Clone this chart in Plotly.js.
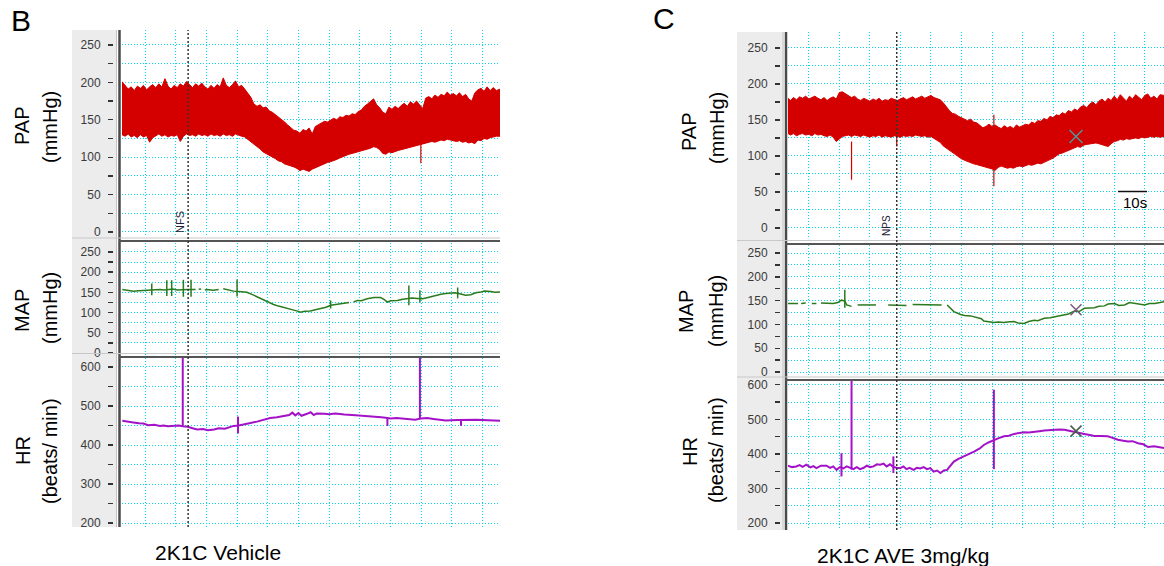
<!DOCTYPE html>
<html>
<head>
<meta charset="utf-8">
<script src="https://cdn.plot.ly/plotly-3.0.1.min.js"></script>
<style>html,body{margin:0;padding:0;background:#fff}#chart{width:1164px;height:566px}</style>
</head>
<body>
<div id="chart"></div>
<script>
// ---------------- DATA ----------------
// Panel B : 2K1C Vehicle  (time in seconds)
const bT = [2.5,3.5,4.5,5.5,6.5,7.5,8.5,9.5,10.5,11.5,12.5,13.5,14.5,15.5,16.5,17.5,18.5,19.5,20.5,21.5,22.5,23.5,24.5,25.5,26.5,27.5,28.5,29.5,30.5,31.5,32.5,33.5,34.5,35.5,36.5,37.5,38.5,39.5,40.5,41.5,42.5,43.5,44.5,45.5,46.5,47.5,48.5,49.5,50.5,51.5,52.5,53.5,54.5,55.5,56.5,57.5,58.5,59.5,60.5,61.5,62.5,63.5,64.5,65.5,66.5,67.5,68.5,69.5,70.5,71.5,72.5,73.5,74.5,75.5,76.5,77.5,78.5,79.5,80.5,81.5,82.5,83.5,84.5,85.5,86.5,87.5,88.5,89.5,90.5,91.5,92.5,93.5,94.5,95.5,96.5,97.5,98.5,99.5,100.5,101.5,102.5,103.5,104.5,105.5,106.5,107.5,108.5,109.5,110.5,111.5,112.5,113.5,114.5,115.5,116.5,117.5,118.5,119.5,120.5,121.5,122.5,123.5,124.5,125.7];
const bPapHi = [201,196,191,194,189,195,192,196,190,194,197,
  193,198,194,205,195,191,196,193,198,195,
  201,197,193,198,195,199,194,191,196,192,
  197,194,206,196,193,197,202,194,196,191,
  186,180,171,168,170,166,167,162,160,157,
  153,150,147,143,140,136,135,132,137,135,
  139,131,141,143,145,148,147,150,152,150,
  154,153,156,155,158,157,161,163,168,171,
  174,178,170,166,160,158,167,164,168,165,
  169,172,168,174,171,175,170,165,179,181,
  178,183,180,184,182,187,183,185,182,186,
  181,184,178,175,186,190,192,188,194,189,
  193,189,191];
const bPapLo = [130,128,131,127,129,126,130,127,129,120,126,
  129,131,128,130,127,129,128,130,121,128,
  131,129,130,128,131,129,130,128,131,129,
  130,128,131,129,130,128,131,129,128,127,
  124,120,118,114,111,107,105,103,100,98,
  95,94,91,90,88,87,85,82,84,83,
  81,84,86,88,89,91,93,94,95,97,
  99,101,102,104,105,106,107,108,109,110,
  112,114,113,110,105,104,107,106,108,109,
  110,111,112,113,115,116,117,118,119,120,
  121,120,122,123,122,124,123,122,121,122,
  120,121,119,120,118,123,122,125,124,126,
  127,128,128];
const bPapSpikeT = [99.9];
const bPapSpikeLo = [92];
const bPapSpikeHi = [119];

const bMapT = [2.6,4,6.2,8,9.5,11,12.2,14.9,16.5,17.5,19,20.5,22,23.9,25.5,26.5,27,27.5,28.3,29,29.5,30,32.3,34,35,35.5,37,38.9,40.5,42.5,43.2,45.4,47,48.7,50.8,51.9,53.5,55.2,57,58.5,60,60.7,62,63.9,65.5,67.2,69,70.5,72.6,74,75.9,76.5,77.2,78,79.2,80.5,82.4,84.6,86.8,88,89,90.1,92.2,94,95.5,97,98.8,100.5,102.6,104,105.3,106.4,108,109.7,111,112.9,114.5,116.2,117.8,119.5,120.6,122.7,124,125.7];
const bMapV = [157,155,153,154,155,156,155,157,156,157,158,156,157,157,157,157,null,158,158,null,156,157,155,157,null,159,156,153,152,151,150,143,137,130,124,120,116,112,109,106,103,101,103,104,107,110,113,118,120,121,124,125,null,126,130,129,134,137,137,132,126,129,130,133,134,136,135,134,138,141,144,145,147,149,149,146,143,144,149,151,153,152,150,151];
const bMapSpikeT = [12.2,17.1,18.7,22.5,25,40,70.5,96,99.6,111.9];
const bMapSpikeLo = [143,141,141,139,139,140,110,118,125,135];
const bMapSpikeHi = [172,180,180,181,181,182,130,167,155,162];

const bHrT = [2.6,4,6.2,8,9.5,11,13,14.9,16,17.5,19.3,21,22.3,23.9,25.5,27,28.9,30.5,32.5,34,36,37.5,38.9,40.5,42.5,44,46.5,48,50.8,53,55,57,58,59,60,61,62.8,64,65,66,68.4,70,72,73.7,75,78.6,81,84,87,88.4,90,92,95.5,98,99.9,102,104,106.4,108,111.9,114,116.2,118,120,122.7,125.7];
const bHrV = [462,461,458,456,455,451,452,449,450,448,449,450,448,447,443,440,441,438,440,443,442,446,449,450,454,456,460,463,469,471,474,477,483,476,482,475,480,484,477,481,480,479,481,479,478,476,475,473,471,470,468,469,466,465,468,469,467,464,463,464,465,466,465,464,463,462];
const bHrSpikeT = [22.3,99.6,40.3,89,113];
const bHrSpikeLo = [448,468,430,449,449];
const bHrSpikeHi = [640,640,473,470,464];
const bMarker = 24.05; // NFS

// Panel C : 2K1C AVE 3mg/kg
const cT = [3.2,4,5,6,7,8,9,10,11,12,13,14,15,16,17,18,19,20,21,22,23,24,25,26,27,28,29,30,31,32,33,34,35,36,37,38,39,40,41,42,43,44,45,46,47,48,49,50,51,52,53,54,55,56,57,58,59,60,61,62,63,64,65,66,67,68,69,70,71,72,73,74,75,76,77,78,79,80,81,82,83,84,85,86,87,88,89,90,91,92,93,94,95,96,97,98,99,100,101,102,103,104,105,106,107,108,109,110,111,112,113,114,115,116,117,118,119,120,121,122,123,124,125,126.3];
const cPapHi = [180,
  177,181,178,182,180,183,179,181,183,180,
  178,181,177,180,182,179,188,189,186,184,
  181,183,179,177,180,178,176,179,177,180,
  176,178,177,180,178,177,179,181,178,180,
  182,179,181,183,180,182,184,181,180,178,
  174,168,163,159,158,155,153,152,149,151,
  147,146,143,139,141,144,141,143,140,138,
  142,139,141,138,143,140,142,144,143,147,
  145,149,148,152,150,155,153,157,156,160,
  158,163,161,165,163,168,170,167,172,175,
  171,176,179,175,180,177,183,178,185,181,
  176,183,179,185,182,178,184,186,180,183,
  179,185,184];
const cPapLo = [131,
  129,131,128,130,131,129,130,128,131,129,
  130,128,127,129,126,120,124,127,128,129,
  127,129,128,127,129,128,126,128,127,129,
  126,128,127,126,128,127,126,128,127,128,
  127,129,128,127,128,126,127,124,122,119,
  114,111,107,104,101,99,96,94,92,90,
  89,88,87,86,85,84,82,80,84,86,
  85,83,84,83,85,86,85,87,88,87,
  89,90,89,91,93,94,97,100,103,104,
  106,107,109,111,113,112,115,116,117,118,
  118,117,116,114,113,117,120,121,123,122,
  124,123,124,125,124,126,125,126,127,126,
  127,126,127];
const cPapSpikeT = [24.0,70.6,38.8];
const cPapSpikeLo = [67,58,113];
const cPapSpikeHi = [120,157,126];

const cMapT = [3.2,5,6.5,7,7.5,9,10,11,12.5,13,14,16,18,19.5,20.7,21.8,22.4,23.5,24,25,26,28,30,32,33.5,36,38,40,41,42,43,44,46,48,50,52,53.5,54.5,55.3,56.5,57.5,59.7,61,63,65.2,66.5,67.3,68.5,70.6,72,73.9,75,77.2,78.5,80.5,82,83.8,85,87.1,89,90.4,92,93.7,95,97,98.5,100.2,102,103.5,105,106.8,108,110.1,111.5,113.4,115,116.7,118,120,121.5,123.3,125,126.3];
const cMapV = [144,144,144,null,144,145,null,144,144,null,145,144,144,146,151,149,141,139,138,null,141,141,141,141,null,141,141,141,140,140,null,142,142,141,142,142,141,null,141,133,127,121,119,118,114,112,107,106,104,105,104,105,106,103,102,106,109,108,113,114,116,118,121,122,128,127,134,135,135,138,139,143,144,140,141,146,144,142,141,144,144,146,148];
const cMapSpikeT = [21.8];
const cMapSpikeLo = [135];
const cMapSpikeHi = [173];

const cHrT = [3.2,4.5,5.9,7,8,9.2,10.5,11.5,12.5,14,15.8,17,18,19.1,20.2,21.3,22.4,23.5,24.6,25.7,26.8,28,29,30.1,31.2,32.3,33.4,34.5,35.5,36.6,37.7,38.8,39.9,41,42,43,44.3,45.4,46.5,47.6,48.7,49.8,50.9,52,53.1,54.2,55.3,56,57.5,59,60.8,62.5,64.1,66,67.3,69,70.6,72,73.9,75.5,77.2,79,80.5,82,83.8,85.5,87.1,88.5,90.4,92,93.7,95,97,98.5,100.2,102,103.5,105.5,107.9,109,111.2,113,114.5,116,117.8,119.5,121.1,123,125,126.3];
const cHrV = [366,362,364,368,363,369,361,365,359,366,366,360,364,354,362,358,364,360,356,362,356,360,366,362,364,370,369,372,364,370,362,360,359,364,356,360,354,360,358,362,356,359,349,352,345,352,354,362,378,386,393,399,407,416,426,434,441,445,451,453,458,461,463,462,465,466,468,469,470,471,470,468,465,462,458,455,452,452,451,448,441,438,436,437,431,428,420,422,418,417];
const cHrSpikeT = [20.7,24.0,37.7,70.6];
const cHrSpikeLo = [335,355,345,356];
const cHrSpikeHi = [402,640,393,586];
const cMarker = 38.8; // NPS
const cCursorT = 97.5;
const cCursorPap = 127, cCursorMap = 131, cCursorHr = 466;

const papTicks = [0,25,50,75,100,125,150,175,200,225,250];
const papLabels = ['0','','50','','100','','150','','200','','250'];
const hrTicks = [200,250,300,350,400,450,500,550,600];
const hrLabels = ['200','','300','','400','','500','','600'];

// ---------------- STYLE / LAYOUT ----------------
const W = 1164, H = 566;
const px = x => x / W;
const py = y => 1 - y / H;
const RED = '#d40000', GREEN = '#2a7a1e', PURPLE = '#a412c8', CYAN = '#00dcec';
const GDASH = '1px,2px';

function spikes(t, lo, hi) {
  const x = [], y = [];
  t.forEach((v, i) => { x.push(v, v, null); y.push(lo[i], hi[i], null); });
  return {x, y};
}

const traces = [];
function band(t, lo, hi, xa, ya) {
  traces.push({x: t, y: lo, xaxis: xa, yaxis: ya, mode: 'lines', line: {color: RED, width: 1}, hoverinfo: 'skip', showlegend: false});
  traces.push({x: t, y: hi, xaxis: xa, yaxis: ya, mode: 'lines', fill: 'tonexty', fillcolor: RED, line: {color: RED, width: 1}, hoverinfo: 'skip', showlegend: false});
}
function line(t, v, color, w, xa, ya) {
  traces.push({x: t, y: v, xaxis: xa, yaxis: ya, mode: 'lines', connectgaps: false, line: {color: color, width: w}, hoverinfo: 'skip', showlegend: false});
}
function spk(t, lo, hi, color, w, xa, ya) {
  const s = spikes(t, lo, hi);
  traces.push({x: s.x, y: s.y, xaxis: xa, yaxis: ya, mode: 'lines', connectgaps: false, line: {color: color, width: w}, hoverinfo: 'skip', showlegend: false});
}

band(bT, bPapLo, bPapHi, 'x', 'y');
spk(bPapSpikeT, bPapSpikeLo, bPapSpikeHi, RED, 1.2, 'x', 'y');
line(bMapT, bMapV, GREEN, 1.5, 'x2', 'y2');
spk(bMapSpikeT, bMapSpikeLo, bMapSpikeHi, GREEN, 1.5, 'x2', 'y2');
line(bHrT, bHrV, PURPLE, 2, 'x3', 'y3');
spk(bHrSpikeT, bHrSpikeLo, bHrSpikeHi, PURPLE, 2, 'x3', 'y3');

band(cT, cPapLo, cPapHi, 'x4', 'y4');
spk(cPapSpikeT, cPapSpikeLo, cPapSpikeHi, RED, 1.2, 'x4', 'y4');
line(cMapT, cMapV, GREEN, 1.5, 'x5', 'y5');
spk(cMapSpikeT, cMapSpikeLo, cMapSpikeHi, GREEN, 1.5, 'x5', 'y5');
line(cHrT, cHrV, PURPLE, 2, 'x6', 'y6');
spk(cHrSpikeT, cHrSpikeLo, cHrSpikeHi, PURPLE, 2, 'x6', 'y6');

function cursor(y, xa, ya, color, size) {
  traces.push({x: [cCursorT], y: [y], xaxis: xa, yaxis: ya, mode: 'markers',
    marker: {symbol: 'x-thin-open', size: size, color: color, line: {color: color, width: 1.5}}, hoverinfo: 'skip', showlegend: false});
}
cursor(cCursorPap, 'x4', 'y4', '#4f9599', 13);
cursor(cCursorMap, 'x5', 'y5', '#7a5a7a', 11);
cursor(cCursorHr, 'x6', 'y6', '#4a5a4a', 11);

const tickFont = {family: 'Liberation Sans, Arial, sans-serif', size: 12, color: '#3a3a3a'};
function xax(dom, range, anchor) {
  return {domain: dom, range: range, anchor: anchor, showticklabels: false, ticks: '', showgrid: true,
          gridcolor: CYAN, griddash: GDASH, gridwidth: 1, tick0: 0, dtick: 10, zeroline: false, showline: false, fixedrange: true};
}
function yax(dom, range, vals, labels, posPx) {
  return {domain: dom, range: range, anchor: 'free', position: px(posPx), tickmode: 'array', tickvals: vals,
          ticktext: labels, ticks: 'outside', ticklen: 5, tickwidth: 1.3, tickcolor: '#333',
          ticklabelstandoff: 5, tickfont: tickFont, showgrid: true, gridcolor: CYAN, griddash: GDASH, gridwidth: 1,
          zeroline: false, showline: false, fixedrange: true};
}

const bX = [px(122), px(500)], cX = [px(788), 1];
const bRange = [2.5, 125.7], cRange = [3.2, 126.3];

const layout = {
  width: W, height: H, margin: {l: 0, r: 0, t: 0, b: 0}, paper_bgcolor: '#fff', plot_bgcolor: '#fff', showlegend: false,
  xaxis: xax(bX, bRange, 'y'), xaxis2: xax(bX, bRange, 'y2'), xaxis3: xax(bX, bRange, 'y3'),
  xaxis4: xax(cX, cRange, 'y4'), xaxis5: xax(cX, cRange, 'y5'), xaxis6: xax(cX, cRange, 'y6'),
  yaxis: yax([py(237), py(30)], [-6.7, 270], papTicks, papLabels, 113),
  yaxis2: yax([py(356), py(243)], [-7.4, 272], papTicks, papLabels, 113),
  yaxis3: yax([py(527), py(358)], [190, 623], hrTicks, hrLabels, 113),
  yaxis4: yax([py(237), py(32)], [-12.5, 272], papTicks, papLabels, 780),
  yaxis5: yax([py(377), py(245)], [-10.5, 267], papTicks, papLabels, 780),
  yaxis6: yax([py(530), py(380)], [180, 614], hrTicks, hrLabels, 780),
  shapes: [], annotations: []
};

function rect(x0, x1, y0, y1, fill, layer) {
  layout.shapes.push({type: 'rect', xref: 'paper', yref: 'paper', x0: px(x0), x1: px(x1), y0: py(y1), y1: py(y0), fillcolor: fill, line: {width: 0}, layer: layer || 'below'});
}
function seg(x0, y0, x1, y1, color, w, dash) {
  layout.shapes.push({type: 'line', xref: 'paper', yref: 'paper', x0: px(x0), x1: px(x1), y0: py(y0), y1: py(y1), line: {color: color, width: w, dash: dash || 'solid'}, layer: 'above'});
}
// gray label strips and frame lines
rect(72, 117, 30, 527, '#ececec');
rect(737, 784, 32, 530, '#ececec');
seg(116.5, 30, 116.5, 527, '#c4c4c4', 1);
seg(119.5, 30, 119.5, 527, '#4a4a4a', 2.5);
seg(72, 238, 500, 238, '#c8c8c8', 1.2);
seg(119, 241, 500, 241, '#555', 2);
seg(72, 353.5, 500, 353.5, '#c8c8c8', 1.2);
seg(119, 357, 500, 357, '#555', 2);
seg(783, 32, 783, 530, '#c4c4c4', 1);
seg(786, 32, 786, 530, '#4a4a4a', 2.5);
seg(737, 240.5, 1164, 240.5, '#c8c8c8', 1.2);
seg(785, 244, 1164, 244, '#555', 2);
seg(737, 377, 1164, 377, '#c8c8c8', 1.2);
seg(785, 380, 1164, 380, '#555', 2);
// event markers (NFS / NPS) drawn on data x
layout.shapes.push({type: 'line', xref: 'x', yref: 'paper', x0: bMarker, x1: bMarker, y0: py(527), y1: py(30), line: {color: '#333', width: 1.5, dash: '2px,2px'}, layer: 'above'});
layout.shapes.push({type: 'line', xref: 'x4', yref: 'paper', x0: cMarker, x1: cMarker, y0: py(530), y1: py(32), line: {color: '#333', width: 1.5, dash: '2px,2px'}, layer: 'above'});
// 10 s scale bar
seg(1118, 191.5, 1147, 191.5, '#111', 1.5);

const LF = 'Liberation Sans, Arial, sans-serif';
function ann(text, x, y, size, angle, extra) {
  layout.annotations.push(Object.assign({text: text, xref: 'paper', yref: 'paper', x: px(x), y: py(y), xanchor: 'center', yanchor: 'middle',
    showarrow: false, textangle: angle || 0, font: {family: LF, size: size, color: '#000'}}, extra || {}));
}
ann('B', 21, 20, 30);
ann('C', 664, 18, 30);
ann('PAP', 22, 126, 20, -90);
ann('(mmHg)', 50, 127, 20, -90);
ann('MAP', 22, 311, 20, -90);
ann('(mmHg)', 50, 308, 20, -90);
ann('HR', 23, 451, 20, -90);
ann('(beats/ min)', 50, 451, 20, -90);
ann('PAP', 689, 132, 20, -90);
ann('(mmHg)', 717, 128, 20, -90);
ann('MAP', 686, 312, 20, -90);
ann('(mmHg)', 716, 311, 20, -90);
ann('HR', 690, 452, 20, -90);
ann('(beats/ min)', 716, 450, 20, -90);
ann('2K1C Vehicle', 218, 552, 21);
ann('2K1C AVE 3mg/kg', 903, 555, 21);
ann('NFS', 180, 222, 11, -90, {font: {family: LF, size: 11, color: '#223'}});
ann('NPS', 887, 226, 10, -90, {font: {family: LF, size: 10, color: '#223'}});
ann('10s', 1135, 202, 15);

Plotly.newPlot('chart', traces, layout, {staticPlot: true, displayModeBar: false});
</script>
</body>
</html>
